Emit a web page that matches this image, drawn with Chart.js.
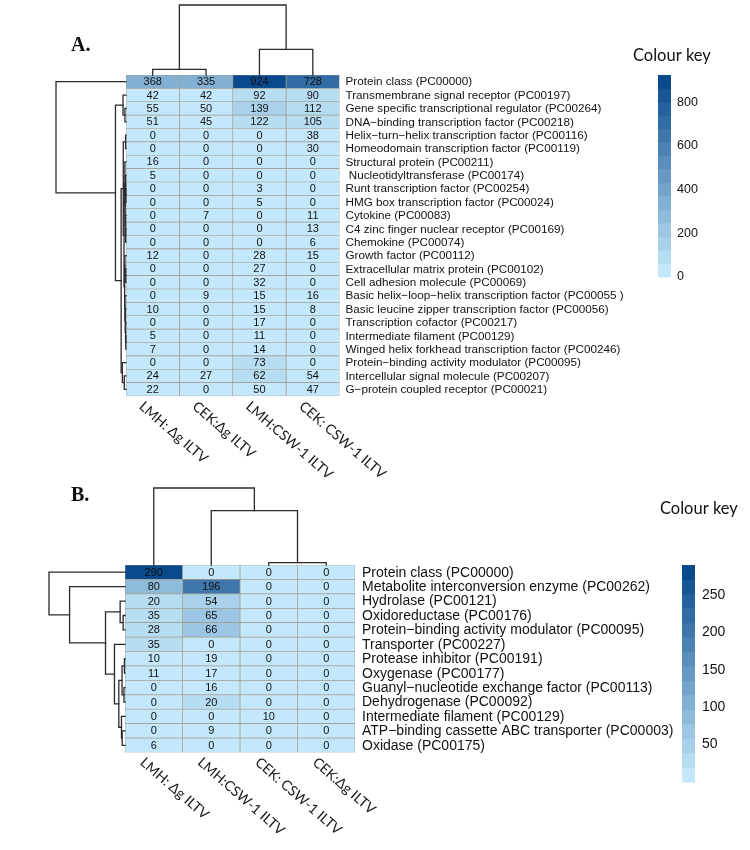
<!DOCTYPE html>
<html><head><meta charset="utf-8">
<script src="https://cdn.jsdelivr.net/npm/chart.js@4.4.0/dist/chart.umd.min.js"></script>
<style>
html,body{margin:0;padding:0;background:#fff;}
body{width:750px;height:850px;position:relative;overflow:hidden;}
canvas{position:absolute;left:0;}
#cA{top:0;} #cB{top:425px;}
</style></head>
<body>
<canvas id="cA" width="750" height="500"></canvas>
<canvas id="cB" width="750" height="425"></canvas>
<script>
// ---------- Panel A data ----------
const columnsA = ['LMH: Δg ILTV', 'CEK:Δg ILTV', 'LMH:CSW-1 ILTV', 'CEK: CSW-1 ILTV'];
const rowsA = [
  'Protein class (PC00000)',
  'Transmembrane signal receptor (PC00197)',
  'Gene specific transcriptional regulator (PC00264)',
  'DNA\u2212binding transcription factor (PC00218)',
  'Helix\u2212turn\u2212helix transcription factor (PC00116)',
  'Homeodomain transcription factor (PC00119)',
  'Structural protein (PC00211)',
  ' Nucleotidyltransferase (PC00174)',
  'Runt transcription factor (PC00254)',
  'HMG box transcription factor (PC00024)',
  'Cytokine (PC00083)',
  'C4 zinc finger nuclear receptor (PC00169)',
  'Chemokine (PC00074)',
  'Growth factor (PC00112)',
  'Extracellular matrix protein (PC00102)',
  'Cell adhesion molecule (PC00069)',
  'Basic helix\u2212loop\u2212helix transcription factor (PC00055 )',
  'Basic leucine zipper transcription factor (PC00056)',
  'Transcription cofactor (PC00217)',
  'Intermediate filament (PC00129)',
  'Winged helix forkhead transcription factor (PC00246)',
  'Protein\u2212binding activity modulator (PC00095)',
  'Intercellular signal molecule (PC00207)',
  'G\u2212protein coupled receptor (PC00021)'
];
const lmhDgA  = [368,42,55,51,0,0,16,5,0,0,0,0,0,12,0,0,0,10,0,5,7,0,24,22];
const cekDgA  = [335,42,50,45,0,0,0,0,0,0,7,0,0,0,0,0,9,0,0,0,0,0,27,0];
const lmhCswA = [924,92,139,122,0,0,0,0,3,5,0,0,0,28,27,32,15,15,17,11,14,73,62,50];
const cekCswA = [728,90,112,105,38,30,0,0,0,0,11,13,6,15,0,0,16,8,0,0,0,0,54,47];
const keyRangeA = [0, 924];
const keyTicksA = [0, 200, 400, 600, 800];

// ---------- Panel B data ----------
const columnsB = ['LMH: Δg ILTV', 'LMH:CSW-1 ILTV', 'CEK: CSW-1 ILTV', 'CEK:Δg ILTV'];
const rowsB = [
  'Protein class (PC00000)',
  'Metabolite interconversion enzyme (PC00262)',
  'Hydrolase (PC00121)',
  'Oxidoreductase (PC00176)',
  'Protein\u2212binding activity modulator (PC00095)',
  'Transporter (PC00227)',
  'Protease inhibitor (PC00191)',
  'Oxygenase (PC00177)',
  'Guanyl\u2212nucleotide exchange factor (PC00113)',
  'Dehydrogenase (PC00092)',
  'Intermediate filament (PC00129)',
  'ATP\u2212binding cassette ABC transporter (PC00003)',
  'Oxidase (PC00175)'
];
const lmhDgB  = [290,80,20,35,28,35,10,11,0,0,0,0,6];
const lmhCswB = [0,196,54,65,66,0,19,17,16,20,0,9,0];
const cekCswB = [0,0,0,0,0,0,0,0,0,0,10,0,0];
const cekDgB  = [0,0,0,0,0,0,0,0,0,0,0,0,0];
const keyRangeB = [0, 290];
const keyTicksB = [50, 100, 150, 200, 250];

const nBins = 15;
const lightRGB = [196, 232, 251];
const darkRGB  = [10, 74, 140];

function binColour(i){
  const t = i/(nBins-1);
  const c = lightRGB.map((l,k)=>Math.round(l + (darkRGB[k]-l)*t));
  return 'rgb('+c.join(',')+')';
}
function valueColour(v, range){
  let b = Math.floor((v - range[0]) / (range[1]-range[0]) * nBins);
  b = Math.max(0, Math.min(nBins-1, b));
  return binColour(b);
}

// complete-linkage hierarchical clustering (Euclidean)
function hclust(vecs){
  const n = vecs.length;
  const D = [];
  for (let i=0;i<n;i++){ D[i]=[]; for (let j=0;j<n;j++){ let s=0; for (let k=0;k<vecs[i].length;k++){ s+=(vecs[i][k]-vecs[j][k])**2; } D[i][j]=Math.sqrt(s);} }
  let cl = vecs.map((v,i)=>({leaves:[i], h:0, kids:null, leaf:i}));
  while (cl.length>1){
    let best=Infinity, bi=0, bj=1;
    for (let i=0;i<cl.length;i++) for (let j=i+1;j<cl.length;j++){
      let m=0;
      for (const a of cl[i].leaves) for (const b of cl[j].leaves) if (D[a][b]>m) m=D[a][b];
      if (m<best-1e-9){best=m;bi=i;bj=j;}
    }
    const node={leaves:cl[bi].leaves.concat(cl[bj].leaves), h:best, kids:[cl[bi],cl[bj]]};
    cl = cl.filter((c,k)=>k!==bi && k!==bj); cl.push(node);
  }
  return cl[0];
}

const panelPlugin = {
  id: 'panel',
  afterDatasetsDraw(chart, args, o){
    const ctx = chart.ctx, xs = chart.scales.x, ys = chart.scales.y, ca = chart.chartArea;
    const cols = o.columns, rows = o.rows, series = o.series;
    ctx.save();
    // cell values
    ctx.fillStyle = '#111';
    ctx.font = o.cellFont;
    ctx.textAlign = 'center'; ctx.textBaseline = 'middle';
    series.forEach((s,c)=>{ s.forEach((v,r)=>{ ctx.fillText(String(v), xs.getPixelForValue(c), ys.getPixelForValue(r)+0.5); }); });
    // row labels
    ctx.font = o.rowFont; ctx.textAlign='left';
    rows.forEach((lab,r)=>{ ctx.fillText(lab, ca.right + o.rowLabelGap, ys.getPixelForValue(r)+0.5); });
    // column labels
    ctx.font = o.colFont; ctx.textBaseline='top'; ctx.fillStyle='#1a1a1a';
    cols.forEach((lab,c)=>{
      ctx.save();
      ctx.translate(xs.getPixelForValue(c) + o.colLabelDx, ca.bottom + o.colLabelDy);
      ctx.rotate(o.colLabelAngle*Math.PI/180);
      ctx.fillText(lab, 0, 0);
      ctx.restore();
    });
    // dendrograms
    ctx.strokeStyle = '#2a2a2a'; ctx.lineWidth = 1.3; ctx.lineCap='square';
    const rowVecs = rows.map((_,r)=>series.map(s=>s[r]));
    const colVecs = series;
    const rt = hclust(rowVecs), ct = hclust(colVecs);
    const xOf = h => ca.left - h/rt.h*o.rowDendW;
    function drawRow(n){
      if (!n.kids) return {p: ys.getPixelForValue(n.leaf), h:0};
      const a=drawRow(n.kids[0]), b=drawRow(n.kids[1]);
      const x=xOf(n.h);
      ctx.beginPath(); ctx.moveTo(xOf(a.h), a.p); ctx.lineTo(x, a.p); ctx.lineTo(x, b.p); ctx.lineTo(xOf(b.h), b.p); ctx.stroke();
      return {p:(a.p+b.p)/2, h:n.h};
    }
    drawRow(rt);
    const yOf = h => ca.top - h/ct.h*o.colDendH;
    function drawCol(n){
      if (!n.kids) return {p: xs.getPixelForValue(n.leaf), h:0};
      const a=drawCol(n.kids[0]), b=drawCol(n.kids[1]);
      const y=yOf(n.h);
      ctx.beginPath(); ctx.moveTo(a.p, yOf(a.h)); ctx.lineTo(a.p, y); ctx.lineTo(b.p, y); ctx.lineTo(b.p, yOf(b.h)); ctx.stroke();
      return {p:(a.p+b.p)/2, h:n.h};
    }
    drawCol(ct);
    // colour key
    const k = o.key;
    const kp = v => k.bottom - (v-o.keyRange[0])/(o.keyRange[1]-o.keyRange[0])*(k.bottom-k.top);
    for (let i=0;i<nBins;i++){
      const v0 = o.keyRange[0] + (o.keyRange[1]-o.keyRange[0])*i/nBins;
      const v1 = o.keyRange[0] + (o.keyRange[1]-o.keyRange[0])*(i+1)/nBins;
      ctx.fillStyle = binColour(i);
      const y0 = kp(v0), y1 = kp(v1);
      ctx.fillRect(k.x, y1, k.w, y0-y1+0.5);
    }
    ctx.fillStyle='#111'; ctx.font=o.keyFont; ctx.textAlign='left'; ctx.textBaseline='middle';
    o.keyTicks.forEach(t=>ctx.fillText(String(t), k.x + k.w + o.keyLabelGap, kp(t)));
    ctx.font = o.keyTitleFont; ctx.textBaseline='alphabetic'; ctx.fillStyle='#111';
    ctx.fillText('Colour key', o.keyTitle[0], o.keyTitle[1]);
    // panel letter
    ctx.font = 'bold 20px "Liberation Serif", "DejaVu Serif", serif';
    ctx.fillText(o.letter, o.letterPos[0], o.letterPos[1]);
    ctx.restore();
  }
};

function makePanel(canvasId, rows, columns, series, keyRange, keyTicks, pad, extra){
  const datasets = series.map((s,c)=>({
    label: columns[c],
    data: s.map(()=>[c-0.5, c+0.5]),
    backgroundColor: s.map(v=>valueColour(v, keyRange)),
    borderColor: '#a39b8f',
    borderWidth: 0.7,
    borderSkipped: false,
    grouped: false,
    barPercentage: 1,
    categoryPercentage: 1
  }));
  return new Chart(document.getElementById(canvasId), {
    type: 'bar',
    data: { labels: rows, datasets },
    options: {
      indexAxis: 'y',
      responsive: false,
      animation: false,
      events: [],
      layout: { padding: pad },
      scales: {
        x: { type:'linear', min:-0.5, max:columns.length-0.5, display:false },
        y: { type:'category', display:false, offset:true }
      },
      plugins: {
        legend:{display:false}, tooltip:{enabled:false},
        panel: Object.assign({ rows, columns, series, keyRange, keyTicks }, extra)
      }
    },
    plugins: [panelPlugin]
  });
}

makePanel('cA', rowsA, columnsA, [lmhDgA, cekDgA, lmhCswA, cekCswA], keyRangeA, keyTicksA,
  {left:126, right:410.5, top:75, bottom:104},
  { cellFont:'11px "Liberation Sans", Arial, sans-serif',
    rowFont:'11.7px "Liberation Sans", Arial, sans-serif',
    colFont:'14px Lato, "Open Sans", sans-serif',
    keyFont:'12.5px "Liberation Sans", Arial, sans-serif',
    keyTitleFont:'16.5px Lato, "Open Sans", sans-serif',
    rowLabelGap:6, colLabelDx:-7, colLabelDy:3, colLabelAngle:41,
    rowDendW:70, colDendH:70,
    key:{x:658, w:13, top:75, bottom:277}, keyLabelGap:6,
    keyTitle:[633, 61], letter:'A.', letterPos:[71, 51] });

makePanel('cB', rowsB, columnsB, [lmhDgB, lmhCswB, cekCswB, cekDgB], keyRangeB, keyTicksB,
  {left:125, right:395, top:140, bottom:97.5},
  { cellFont:'11px "Liberation Sans", Arial, sans-serif',
    rowFont:'14px "Liberation Sans", Arial, sans-serif',
    colFont:'14px Lato, "Open Sans", sans-serif',
    keyFont:'14px "Liberation Sans", Arial, sans-serif',
    keyTitleFont:'16.5px Lato, "Open Sans", sans-serif',
    rowLabelGap:7, colLabelDx:-7, colLabelDy:2.5, colLabelAngle:41,
    rowDendW:76, colDendH:77,
    key:{x:682, w:13, top:140, bottom:357}, keyLabelGap:7,
    keyTitle:[660, 89], letter:'B.', letterPos:[71, 76] });
</script>
</body></html>
